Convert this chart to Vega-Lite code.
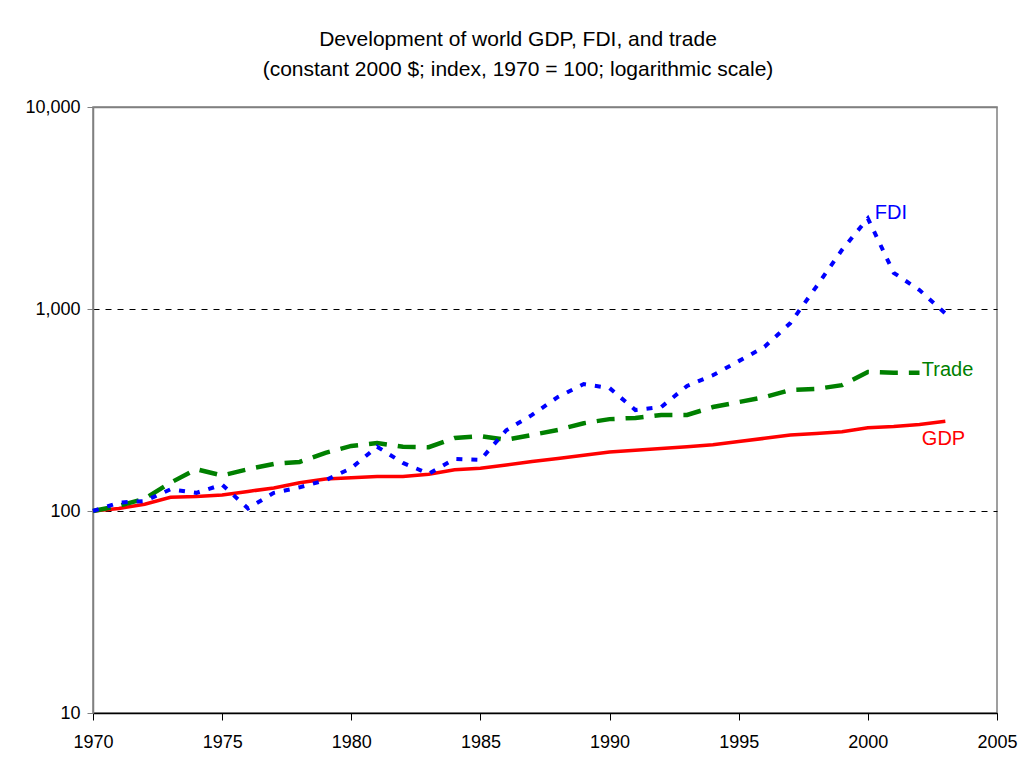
{
  "$schema": "https://vega.github.io/schema/vega-lite/v6.json",
  "width": 904,
  "height": 606,
  "autosize": {"type": "none"},
  "padding": {"left": 93, "top": 107, "right": 21, "bottom": 47},
  "background": "white",
  "title": {
    "text": ["Development of world GDP, FDI, and trade", "(constant 2000 $; index, 1970 = 100; logarithmic scale)"],
    "font": "Liberation Sans",
    "fontSize": 21,
    "fontWeight": "normal",
    "lineHeight": 30,
    "dx": -27,
    "offset": 18,
    "anchor": "middle",
    "color": "black"
  },
  "config": {
    "view": {"stroke": "#808080", "strokeWidth": 1.5},
    "axis": {"labelFont": "Liberation Sans", "labelColor": "black", "labelFontSize": 18, "title": null}
  },
  "datasets": {
    "series": [
      {"year": 1970, "series": "GDP", "value": 100},
      {"year": 1971, "series": "GDP", "value": 103},
      {"year": 1972, "series": "GDP", "value": 108},
      {"year": 1973, "series": "GDP", "value": 117},
      {"year": 1974, "series": "GDP", "value": 118},
      {"year": 1975, "series": "GDP", "value": 120},
      {"year": 1976, "series": "GDP", "value": 125},
      {"year": 1977, "series": "GDP", "value": 130},
      {"year": 1978, "series": "GDP", "value": 138},
      {"year": 1979, "series": "GDP", "value": 144},
      {"year": 1980, "series": "GDP", "value": 146},
      {"year": 1981, "series": "GDP", "value": 148},
      {"year": 1982, "series": "GDP", "value": 148},
      {"year": 1983, "series": "GDP", "value": 152},
      {"year": 1984, "series": "GDP", "value": 160},
      {"year": 1985, "series": "GDP", "value": 163},
      {"year": 1986, "series": "GDP", "value": 169},
      {"year": 1987, "series": "GDP", "value": 176},
      {"year": 1988, "series": "GDP", "value": 182},
      {"year": 1989, "series": "GDP", "value": 189},
      {"year": 1990, "series": "GDP", "value": 196},
      {"year": 1991, "series": "GDP", "value": 200},
      {"year": 1992, "series": "GDP", "value": 204},
      {"year": 1993, "series": "GDP", "value": 208},
      {"year": 1994, "series": "GDP", "value": 213},
      {"year": 1995, "series": "GDP", "value": 221},
      {"year": 1996, "series": "GDP", "value": 229},
      {"year": 1997, "series": "GDP", "value": 238},
      {"year": 1998, "series": "GDP", "value": 242},
      {"year": 1999, "series": "GDP", "value": 247},
      {"year": 2000, "series": "GDP", "value": 258},
      {"year": 2001, "series": "GDP", "value": 262},
      {"year": 2002, "series": "GDP", "value": 268},
      {"year": 2003, "series": "GDP", "value": 278},
      {"year": 1970, "series": "Trade", "value": 100},
      {"year": 1971, "series": "Trade", "value": 106},
      {"year": 1972, "series": "Trade", "value": 115},
      {"year": 1973, "series": "Trade", "value": 138},
      {"year": 1974, "series": "Trade", "value": 161},
      {"year": 1975, "series": "Trade", "value": 150},
      {"year": 1976, "series": "Trade", "value": 161},
      {"year": 1977, "series": "Trade", "value": 171},
      {"year": 1978, "series": "Trade", "value": 175},
      {"year": 1979, "series": "Trade", "value": 194},
      {"year": 1980, "series": "Trade", "value": 210},
      {"year": 1981, "series": "Trade", "value": 217},
      {"year": 1982, "series": "Trade", "value": 208},
      {"year": 1983, "series": "Trade", "value": 207},
      {"year": 1984, "series": "Trade", "value": 230},
      {"year": 1985, "series": "Trade", "value": 235},
      {"year": 1986, "series": "Trade", "value": 225},
      {"year": 1987, "series": "Trade", "value": 238},
      {"year": 1988, "series": "Trade", "value": 252},
      {"year": 1989, "series": "Trade", "value": 272},
      {"year": 1990, "series": "Trade", "value": 285},
      {"year": 1991, "series": "Trade", "value": 289},
      {"year": 1992, "series": "Trade", "value": 299},
      {"year": 1993, "series": "Trade", "value": 299},
      {"year": 1994, "series": "Trade", "value": 327},
      {"year": 1995, "series": "Trade", "value": 346},
      {"year": 1996, "series": "Trade", "value": 366},
      {"year": 1997, "series": "Trade", "value": 397},
      {"year": 1998, "series": "Trade", "value": 402},
      {"year": 1999, "series": "Trade", "value": 420},
      {"year": 2000, "series": "Trade", "value": 488},
      {"year": 2001, "series": "Trade", "value": 483},
      {"year": 2002, "series": "Trade", "value": 484},
      {"year": 1970, "series": "FDI", "value": 100},
      {"year": 1971, "series": "FDI", "value": 110},
      {"year": 1972, "series": "FDI", "value": 112},
      {"year": 1973, "series": "FDI", "value": 128},
      {"year": 1974, "series": "FDI", "value": 123},
      {"year": 1975, "series": "FDI", "value": 135},
      {"year": 1976, "series": "FDI", "value": 103},
      {"year": 1977, "series": "FDI", "value": 123},
      {"year": 1978, "series": "FDI", "value": 131},
      {"year": 1979, "series": "FDI", "value": 142},
      {"year": 1980, "series": "FDI", "value": 163},
      {"year": 1981, "series": "FDI", "value": 208},
      {"year": 1982, "series": "FDI", "value": 173},
      {"year": 1983, "series": "FDI", "value": 153},
      {"year": 1984, "series": "FDI", "value": 181},
      {"year": 1985, "series": "FDI", "value": 179},
      {"year": 1986, "series": "FDI", "value": 251},
      {"year": 1987, "series": "FDI", "value": 299},
      {"year": 1988, "series": "FDI", "value": 367},
      {"year": 1989, "series": "FDI", "value": 425},
      {"year": 1990, "series": "FDI", "value": 406},
      {"year": 1991, "series": "FDI", "value": 316},
      {"year": 1992, "series": "FDI", "value": 327},
      {"year": 1993, "series": "FDI", "value": 416},
      {"year": 1994, "series": "FDI", "value": 470},
      {"year": 1995, "series": "FDI", "value": 552},
      {"year": 1996, "series": "FDI", "value": 650},
      {"year": 1997, "series": "FDI", "value": 852},
      {"year": 1998, "series": "FDI", "value": 1288},
      {"year": 1999, "series": "FDI", "value": 1963},
      {"year": 2000, "series": "FDI", "value": 2810},
      {"year": 2001, "series": "FDI", "value": 1511},
      {"year": 2002, "series": "FDI", "value": 1240},
      {"year": 2003, "series": "FDI", "value": 951}
    ],
    "labels": [
      {"series": "FDI", "year": 2000.27, "value": 2985},
      {"series": "Trade", "year": 2002.09, "value": 500},
      {"series": "GDP", "year": 2002.09, "value": 228}
    ]
  },
  "encoding": {
    "x": {
      "field": "year", "type": "quantitative",
      "scale": {"domain": [1970, 2005], "nice": false, "zero": false},
      "axis": {"values": [1970, 1975, 1980, 1985, 1990, 1995, 2000, 2005], "format": "d", "grid": false, "domainColor": "black", "domainWidth": 1.5, "tickColor": "black", "tickSize": 7, "labelPadding": 13, "labelFlush": false}
    },
    "y": {
      "field": "value", "type": "quantitative",
      "scale": {"type": "log", "domain": [10, 10000], "nice": false},
      "axis": {
        "values": [10, 100, 1000, 10000], "format": ",", "grid": true,
        "gridColor": {"condition": {"test": "datum.value >= 10000", "value": "#808080"}, "value": "black"},
        "gridDash": {"condition": {"test": "datum.value >= 10000", "value": []}, "value": [6, 6]},
        "gridWidth": {"condition": {"test": "datum.value >= 10000", "value": 1.5}, "value": 1},
        "domainColor": "#808080", "domainWidth": 1.5, "tickColor": "#808080", "tickSize": 6, "labelPadding": 7
      }
    },
    "color": {
      "field": "series", "type": "nominal",
      "scale": {"domain": ["GDP", "Trade", "FDI"], "range": ["#FF0000", "#008000", "#0000FF"]},
      "legend": null
    }
  },
  "layer": [
    {
      "data": {"name": "series"},
      "transform": [{"filter": "datum.series === 'GDP'"}],
      "mark": {"type": "line", "strokeWidth": 3.5}
    },
    {
      "data": {"name": "series"},
      "transform": [{"filter": "datum.series === 'Trade'"}],
      "mark": {"type": "line", "strokeWidth": 4.5, "strokeDash": [18, 11]}
    },
    {
      "data": {"name": "series"},
      "transform": [{"filter": "datum.series === 'FDI'"}],
      "mark": {"type": "line", "strokeWidth": 4, "strokeDash": [6, 9]}
    },
    {
      "data": {"name": "labels"},
      "mark": {"type": "text", "align": "left", "baseline": "middle", "font": "Liberation Sans", "fontSize": 20},
      "encoding": {"text": {"field": "series", "type": "nominal"}}
    }
  ]
}
